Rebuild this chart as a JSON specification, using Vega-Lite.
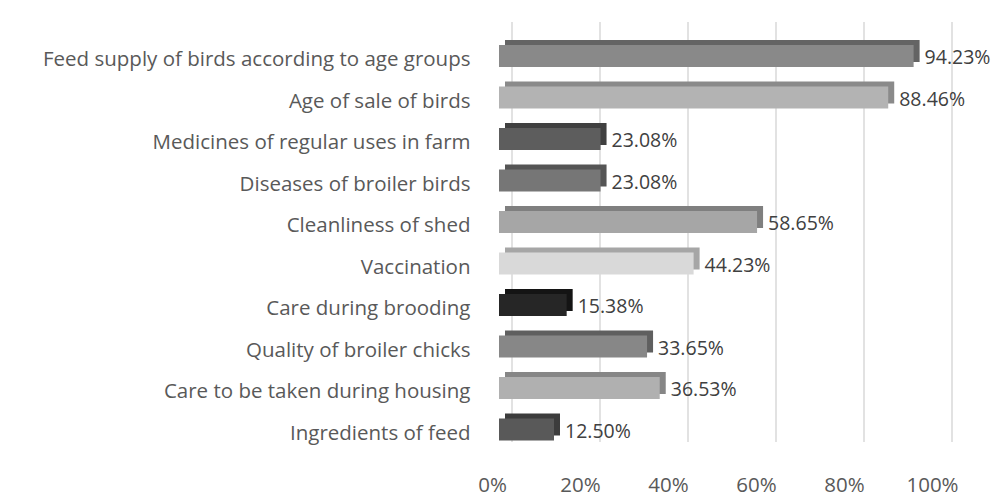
{
  "$schema": "https://vega.github.io/schema/vega-lite/v6.json",
  "autosize": {"type": "none"},
  "width": 440,
  "height": 420,
  "padding": {"left": 499, "top": 22, "right": 55, "bottom": 62},
  "background": "white",
  "config": {"view": {"stroke": null}, "font": "Open Sans"},
  "data": {"values": [
    {"topic": "Feed supply of birds according to age groups", "share": 0.9423},
    {"topic": "Age of sale of birds", "share": 0.8846},
    {"topic": "Medicines of regular uses in farm", "share": 0.2308},
    {"topic": "Diseases of broiler birds", "share": 0.2308},
    {"topic": "Cleanliness of shed", "share": 0.5865},
    {"topic": "Vaccination", "share": 0.4423},
    {"topic": "Care during brooding", "share": 0.1538},
    {"topic": "Quality of broiler chicks", "share": 0.3365},
    {"topic": "Care to be taken during housing", "share": 0.3653},
    {"topic": "Ingredients of feed", "share": 0.125}
  ]},
  "encoding": {
    "y": {"field": "topic", "type": "nominal", "sort": null,
      "scale": {"paddingInner": 0.47, "paddingOuter": 0.295, "align": 0.94},
      "axis": {"title": null, "domain": false, "ticks": false, "labelPadding": 29, "labelOffset": 4, "labelFontSize": 20.5, "labelColor": "#595959", "labelFont": "Open Sans", "labelLimit": 600}}
  },
  "layer": [
    {
      "data": {"values": [{"t": 0}, {"t": 0.2}, {"t": 0.4}, {"t": 0.6}, {"t": 0.8}, {"t": 1}]},
      "mark": {"type": "rule", "color": "#d9d9d9", "strokeWidth": 1.5, "xOffset": 13},
      "encoding": {
        "y": null,
        "x": {"field": "t", "type": "quantitative", "scale": {"domain": [0, 1], "nice": false},
          "axis": {"title": null, "values": [0, 0.2, 0.4, 0.6, 0.8, 1], "format": ".0%", "domain": false, "ticks": false, "grid": false, "labelFlush": false, "labelPadding": 33, "labelOffset": -7, "labelFontSize": 20.5, "labelColor": "#595959", "labelFont": "Open Sans"}}
      }
    },
    {
      "mark": {"type": "bar", "xOffset": 6, "yOffset": -5},
      "encoding": {
        "x": {"field": "share", "type": "quantitative"},
        "color": {"field": "topic", "type": "nominal", "legend": null, "sort": null,
          "scale": {"domain": ["Feed supply of birds according to age groups", "Age of sale of birds", "Medicines of regular uses in farm", "Diseases of broiler birds", "Cleanliness of shed", "Vaccination", "Care during brooding", "Quality of broiler chicks", "Care to be taken during housing", "Ingredients of feed"],
            "range": ["#646464", "#8a8a8a", "#404040", "#555555", "#7f7f7f", "#a6a6a6", "#141414", "#5f5f5f", "#868686", "#3c3c3c"]}}
      }
    },
    {
      "mark": {"type": "bar"},
      "encoding": {
        "x": {"field": "share", "type": "quantitative"},
        "color": {"field": "topic", "type": "nominal", "legend": null, "sort": null,
          "scale": {"domain": ["Feed supply of birds according to age groups", "Age of sale of birds", "Medicines of regular uses in farm", "Diseases of broiler birds", "Cleanliness of shed", "Vaccination", "Care during brooding", "Quality of broiler chicks", "Care to be taken during housing", "Ingredients of feed"],
            "range": ["#898989", "#b3b3b3", "#5d5d5d", "#767676", "#a6a6a6", "#d9d9d9", "#262626", "#878787", "#b0b0b0", "#595959"]}}
      }
    },
    {
      "mark": {"type": "text", "align": "left", "dx": 11, "dy": 2, "fontSize": 19.5, "color": "#404040", "font": "Open Sans"},
      "encoding": {
        "x": {"field": "share", "type": "quantitative"},
        "text": {"field": "share", "type": "quantitative", "format": ".2%"}
      }
    }
  ],
  "resolve": {"scale": {"color": "independent"}}
}
